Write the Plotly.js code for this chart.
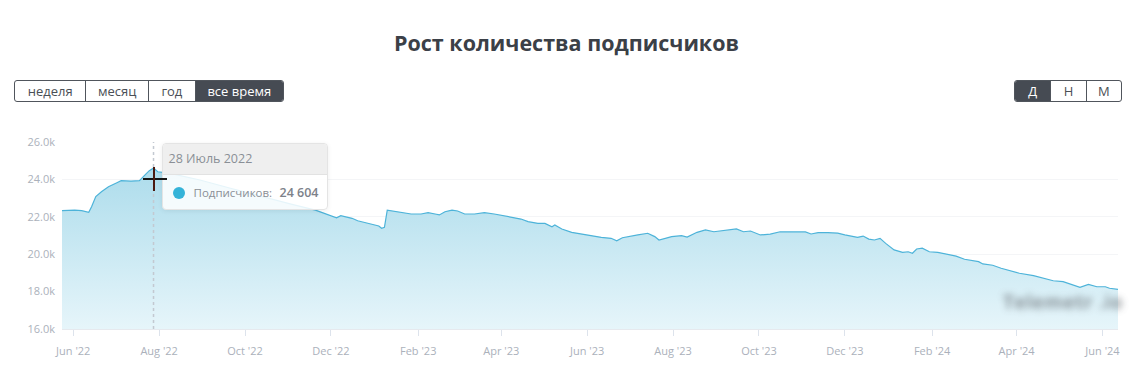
<!DOCTYPE html>
<html lang="ru">
<head>
<meta charset="utf-8">
<script src="https://cdn.plot.ly/plotly-3.0.1.min.js"></script>
<style>
  html, body { margin: 0; padding: 0; background: #fff; }
  #wrap { position: relative; width: 1133px; height: 382px; overflow: hidden; font-family: "Open Sans", "Noto Sans", sans-serif; }
  #chart { position: absolute; left: 0; top: 0; width: 1133px; height: 382px; }
  .seg { position: absolute; top: 80px; height: 22px; display: flex; border: 1px solid #50555c; border-radius: 3px; box-sizing: border-box; overflow: hidden; }
  .seg div { height: 20px; line-height: 20px; text-align: center; font-size: 13px; color: #4a4f56; border-left: 1px solid #50555c; box-sizing: border-box; }
  .seg div:first-child { border-left: none; }
  .seg div.on { background: #464b53; color: #fff; }
  #tip { position: absolute; width: 166px; border: 1px solid #e4e4e4; border-radius: 4px; background: rgba(255,255,255,0.86); box-shadow: 0 1px 5px rgba(0,0,0,0.07); overflow: hidden; box-sizing: border-box; }
  #tip .head { height: 30px; line-height: 29px; padding-left: 6px; background: rgba(238,238,238,0.92); border-bottom: 1px solid #e2e2e2; font-size: 12.5px; color: #8a8f96; }
  #tip .body { position: relative; height: 36px; font-size: 11.5px; color: #8a8f96; }
  #tip .dot { position: absolute; left: 10px; top: 12px; width: 12px; height: 12px; border-radius: 50%; background: #35b3d8; }
  #tip .lbl { position: absolute; left: 31px; top: 10px; }
  #tip .val { position: absolute; left: 117px; top: 9px; font-size: 12.5px; font-weight: 600; color: #7d828a; }
  .cur { position: absolute; }
  #mark { position: absolute; left: 1003px; top: 289px; font-size: 19px; font-weight: 700; color: #737a80; filter: blur(3.5px); opacity: 0.8; letter-spacing: 0.5px; }
</style>
</head>
<body>
<div id="wrap">
  <div id="chart"></div>
  <div class="seg" style="left:14px; width:270px;">
    <div style="width:71px">неделя</div><div style="width:63px">месяц</div><div style="width:47px">год</div><div class="on" style="width:89px">все время</div>
  </div>
  <div class="seg" style="left:1014px; width:108px;">
    <div class="on" style="width:36px">Д</div><div style="width:36px">Н</div><div style="width:36px">М</div>
  </div>
  <div id="mark">Telemetr .io</div>
  <div id="tip"><div class="head"></div><div class="body"><span class="dot"></span><span class="lbl">Подписчиков:</span><span class="val"></span></div></div>
  <div class="cur" id="curH"></div>
  <div class="cur" id="curV"></div>
</div>
<script>
// Subscriber counts over the whole lifetime of the channel
const dates = [
  '2022-05-24','2022-06-02','2022-06-07','2022-06-12','2022-06-14','2022-06-17','2022-06-21','2022-06-26',
  '2022-07-02','2022-07-05','2022-07-12','2022-07-18','2022-07-22','2022-07-25','2022-07-28','2022-07-31',
  '2022-08-08','2022-08-30','2022-09-20','2022-10-11','2022-11-02','2022-11-20','2022-11-26',
  '2022-12-02','2022-12-05','2022-12-08','2022-12-11','2022-12-16','2022-12-20','2022-12-26','2022-12-31',
  '2023-01-04','2023-01-06','2023-01-08','2023-01-10','2023-01-13','2023-01-20','2023-01-27',
  '2023-02-03','2023-02-08','2023-02-13','2023-02-16','2023-02-20','2023-02-25',
  '2023-03-01','2023-03-06','2023-03-13','2023-03-20','2023-03-27',
  '2023-04-03','2023-04-10','2023-04-15','2023-04-20','2023-04-27',
  '2023-05-02','2023-05-07','2023-05-09','2023-05-14','2023-05-21','2023-05-28',
  '2023-06-04','2023-06-11','2023-06-18','2023-06-22','2023-06-26',
  '2023-07-02','2023-07-07','2023-07-14','2023-07-19','2023-07-22','2023-07-26','2023-07-31',
  '2023-08-07','2023-08-11','2023-08-18','2023-08-24','2023-08-30',
  '2023-09-06','2023-09-15','2023-09-20','2023-09-25',
  '2023-10-02','2023-10-09','2023-10-16','2023-10-26',
  '2023-11-03','2023-11-07','2023-11-12','2023-11-19','2023-11-26',
  '2023-12-01','2023-12-06','2023-12-10','2023-12-14','2023-12-18','2023-12-22','2023-12-26','2023-12-30',
  '2024-01-02','2024-01-05','2024-01-11','2024-01-15','2024-01-18','2024-01-21','2024-01-25','2024-01-30',
  '2024-02-05','2024-02-12','2024-02-18','2024-02-24','2024-02-29',
  '2024-03-05','2024-03-08','2024-03-15','2024-03-21','2024-03-28',
  '2024-04-03','2024-04-13','2024-04-20','2024-04-27',
  '2024-05-04','2024-05-10','2024-05-16','2024-05-22','2024-05-28',
  '2024-06-03','2024-06-06','2024-06-12'
];
const subscribers = [
  22330,22360,22330,22240,22540,23080,23340,23610,
  23820,23930,23910,23930,24240,24470,24604,24410,
  24340,23970,23540,23110,22690,22360,22190,
  22040,21950,22060,22010,21920,21790,21690,21600,
  21510,21390,21440,22360,22330,22220,22150,
  22150,22220,22150,22100,22270,22360,
  22310,22150,22150,22220,22150,
  22040,21920,21880,21740,21650,
  21650,21470,21560,21350,21170,21070,
  20970,20900,20850,20720,20880,
  20940,21030,21120,20940,20760,20850,20940,
  20990,20920,21170,21300,21200,
  21280,21350,21200,21240,
  21030,21070,21200,21190,
  21190,21080,21150,21150,21130,
  21030,20940,20900,20970,20810,20760,20850,20580,
  20400,20230,20100,20130,20050,20280,20320,20130,
  20100,20010,19900,19730,19650,
  19600,19480,19410,19250,19100,
  18980,18850,18710,18580,
  18530,18390,18230,18390,18260,
  18260,18180,18120
];
const yTickVals = [16000, 18000, 20000, 22000, 24000, 26000];
const yTickText = ['16.0k', '18.0k', '20.0k', '22.0k', '24.0k', '26.0k'];
const monthsRu = ['Январь','Февраль','Март','Апрель','Май','Июнь','Июль','Август','Сентябрь','Октябрь','Ноябрь','Декабрь'];
const hoverDate = '2022-07-28';
const seriesName = 'Подписчиков';

const tickFont = { family: '"Open Sans", "Noto Sans", sans-serif', size: 11, color: '#abb1bb' };

const trace = {
  type: 'scatter',
  mode: 'lines',
  x: dates,
  y: subscribers,
  name: seriesName,
  line: { color: '#4db3d9', width: 1.2 },
  fill: 'tozeroy',
  fillgradient: {
    type: 'vertical',
    start: 16000,
    stop: 25000,
    colorscale: [[0, '#e6f5fa'], [1, '#aadbeb']]
  },
  hoverinfo: 'skip'
};

const layout = {
  width: 1133,
  height: 382,
  margin: { l: 62, r: 15, t: 142, b: 53 },
  paper_bgcolor: '#ffffff',
  plot_bgcolor: '#ffffff',
  showlegend: false,
  title: {
    text: '<b>Рост количества подписчиков</b>',
    xref: 'container', x: 0.5, xanchor: 'center',
    yref: 'container', y: 1 - 43 / 382, yanchor: 'middle',
    font: { family: '"Open Sans", "Noto Sans", sans-serif', size: 21.5, color: '#3b4047' }
  },
  xaxis: {
    type: 'date',
    range: [dates[0], dates[dates.length - 1]],
    tick0: '2022-06-01',
    dtick: 'M2',
    tickformat: "%b '%y",
    ticks: 'outside',
    ticklen: 6,
    tickcolor: '#dde3ec',
    showline: true,
    linecolor: '#e6e9ee',
    linewidth: 1,
    showgrid: false,
    zeroline: false,
    ticklabelstandoff: 6,
    tickfont: tickFont,
    fixedrange: true
  },
  yaxis: {
    range: [16000, 26000],
    tickvals: yTickVals,
    ticktext: yTickText,
    showgrid: true,
    gridcolor: '#f4f5f7',
    gridwidth: 1,
    zeroline: false,
    showline: false,
    ticks: '',
    ticklabelstandoff: 6,
    tickfont: tickFont,
    fixedrange: true
  },
  shapes: [{
    type: 'line',
    xref: 'x', yref: 'paper',
    x0: hoverDate, x1: hoverDate, y0: 0, y1: 1,
    line: { color: '#c3c9d1', width: 1.5, dash: 'dot' },
    layer: 'above'
  }]
};

Plotly.newPlot('chart', [trace], layout, { displayModeBar: false, staticPlot: true }).then(function (gd) {
  const xa = gd._fullLayout.xaxis;
  const ya = gd._fullLayout.yaxis;
  const i = dates.indexOf(hoverDate);
  const v = subscribers[i];
  const px = xa._offset + xa.l2p(xa.d2l(hoverDate));
  const py = ya._offset + ya.l2p(v);

  const d = new Date(hoverDate + 'T00:00:00');
  const tip = document.getElementById('tip');
  tip.querySelector('.head').textContent = d.getDate() + ' ' + monthsRu[d.getMonth()] + ' ' + d.getFullYear();
  tip.querySelector('.val').textContent = String(v).replace(/\B(?=(\d{3})+(?!\d))/g, '\u00a0');
  tip.style.left = (px + 8) + 'px';
  tip.style.top = (ya._offset + 1) + 'px';
  tip.style.height = '67px';

  // pointer crosshair resting just below the hovered point
  const cx = Math.round(px), cy = Math.round(py + 11);
  const h = document.getElementById('curH');
  h.style.cssText = 'left:' + (cx - 11) + 'px;top:' + (cy - 1) + 'px;width:24px;height:2px;background:#151515;';
  const vv = document.getElementById('curV');
  vv.style.cssText = 'left:' + (cx - 1) + 'px;top:' + (cy - 12) + 'px;width:2px;height:24px;background:#4a1a10;';
});
</script>
</body>
</html>
